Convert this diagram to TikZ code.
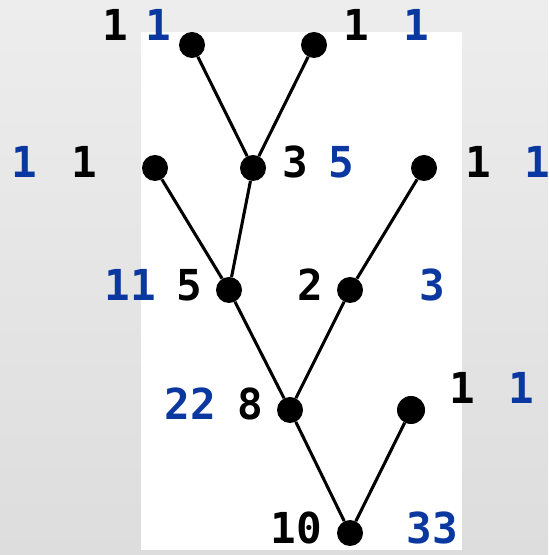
\documentclass[tikz,border=0pt]{standalone}
\usepackage{fontspec}
\setmonofont{DejaVu Sans Mono}
\definecolor{numblue}{RGB}{10,55,160}
\definecolor{bgtop}{RGB}{237,237,237}
\definecolor{bgbottom}{RGB}{221,221,221}

\begin{document}
\begin{tikzpicture}[x=0.75pt, y=0.75pt,
    dot/.style={circle, fill=black, inner sep=0pt, minimum size=19.5pt},
    num/.style={font=\ttfamily\bfseries\fontsize{32}{32}\selectfont, inner sep=0pt},
    cnt/.style={num, text=numblue},
    edge/.style={line width=2.3pt}]
    % Background and panel
    \useasboundingbox (0,0) rectangle (548,555);
    \shade[top color=bgtop, bottom color=bgbottom] (0,0) rectangle (548,555);
    \fill[white] (141,5) rectangle (462,523);

    % Tree nodes
    \node[dot] (a1) at (192,510) {};
    \node[dot] (a2) at (314,510) {};
    \node[dot] (b1) at (155,387) {};
    \node[dot] (b2) at (253,387) {};
    \node[dot] (b3) at (424,387) {};
    \node[dot] (c1) at (229,265) {};
    \node[dot] (c2) at (350,265) {};
    \node[dot] (d1) at (290,145) {};
    \node[dot, minimum size=21pt] (d2) at (411,145) {};
    \node[dot] (e) at (350,22) {};

    % Branches
    \draw[edge] (a1) -- (b2);
    \draw[edge] (a2) -- (b2);
    \draw[edge] (b1) -- (c1);
    \draw[edge] (b2) -- (c1);
    \draw[edge] (b3) -- (c2);
    \draw[edge] (c1) -- (d1);
    \draw[edge] (c2) -- (d1);
    \draw[edge] (d1) -- (e);
    \draw[edge] (d2) -- (e);

    % Labels
    \node[num] (la1) at (115,530) {1};
    \node[cnt] (ca1) at (158,530) {1};
    \node[num] (la2) at (356,530) {1};
    \node[cnt] (ca2) at (416,530) {1};
    \node[cnt] (cb1) at (24,393) {1};
    \node[num] (lb1) at (84,393) {1};
    \node[num] (lb2) at (295,393) {3};
    \node[cnt] (cb2) at (341,393) {5};
    \node[num] (lb3) at (478,393) {1};
    \node[cnt] (cb3) at (537,393) {1};
    \node[cnt] (cc1) at (130,270) {11};
    \node[num] (lc1) at (189,270) {5};
    \node[num] (lc2) at (310,270) {2};
    \node[cnt] (cc2) at (432,270) {3};
    \node[cnt] (cd1) at (190,151) {22};
    \node[num] (ld1) at (250,151) {8};
    \node[num] (ld2) at (462,167) {1};
    \node[cnt] (cd2) at (521,167) {1};
    \node[num] (le) at (296,27) {10};
    \node[cnt] (ce) at (432,27) {33};
\end{tikzpicture}
\end{document}
